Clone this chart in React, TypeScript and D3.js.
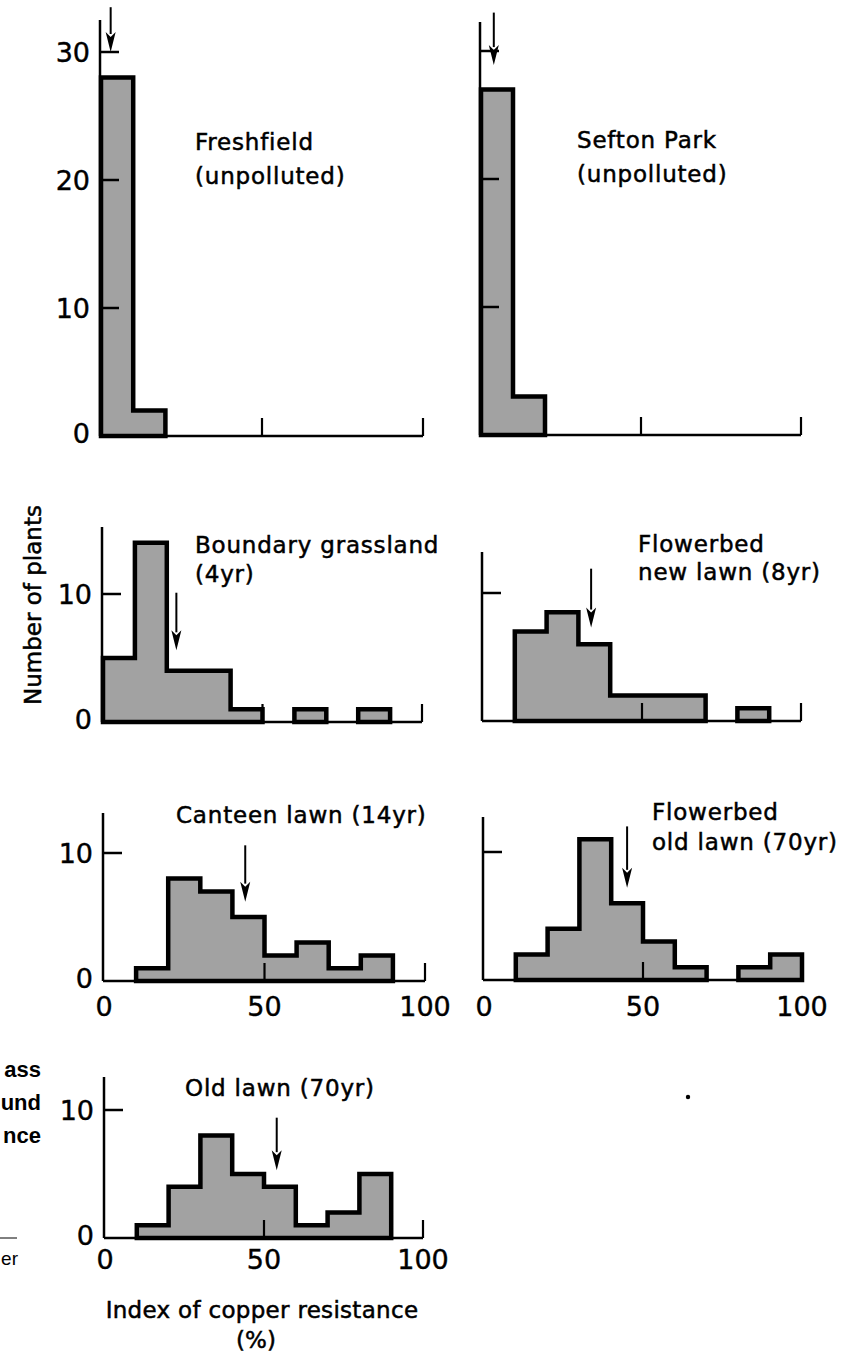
import React from "react";
import * as d3 from "d3";

// bins of the copper resistance index (%)
const binEdges = [0, 10, 20, 30, 40, 50, 60, 70, 80, 90, 100];

// number of plants per bin
const freshfield = [28, 2, 0, 0, 0, 0, 0, 0, 0, 0];
const seftonPark = [27, 3, 0, 0, 0, 0, 0, 0, 0, 0];
const boundaryGrassland = [5, 14, 4, 4, 1, 0, 1, 0, 1, 0];
const flowerbedNewLawn = [0, 7, 8.5, 6, 2, 2, 2, 0, 1, 0];
const canteenLawn = [0, 1, 8, 7, 5, 2, 3, 1, 2, 0];
const flowerbedOldLawn = [0, 2, 4, 11, 6, 3, 1, 0, 1, 2];
const oldLawn = [0, 1, 4, 8, 5, 4, 1, 2, 5, 0];

// mean resistance arrows: [x, top, tip] in data units
const meanArrows = [
  [3, 33.5, 30],
  [4, 33, 28.9],
  [23, 10.1, 5.6],
  [34, 11.9, 7.3],
  [44, 10.6, 6.2],
  [45, 12, 7.2],
  [54, 9.4, 5.3],
];

const siteLabels = [
  ["Freshfield", "(unpolluted)"],
  ["Sefton Park", "(unpolluted)"],
  ["Boundary grassland", "(4yr)"],
  ["Flowerbed", "new lawn (8yr)"],
  ["Canteen lawn (14yr)"],
  ["Flowerbed", "old lawn (70yr)"],
  ["Old lawn (70yr)"],
];

const yTickValues = [
  [10, 20, 30],
  [10, 20, 30],
  [10],
  [10],
  [10],
  [10],
  [10],
];
const xTickLabels = [0, 50, 100];

const series = [
  freshfield,
  seftonPark,
  boundaryGrassland,
  flowerbedNewLawn,
  canteenLawn,
  flowerbedOldLawn,
  oldLawn,
];

// panel placement on the page
const layout = [
  { left: 100, right: 423, base: 436, top: 20, yLab: true, xLab: 0, lx: 195, ly: [150, 184] },
  { left: 480, right: 801, base: 435, top: 22, yLab: false, xLab: 0, lx: 577, ly: [148, 182] },
  { left: 102, right: 422, base: 722, top: 527, yLab: true, xLab: 0, lx: 195, ly: [553, 582] },
  { left: 482, right: 801, base: 721, top: 552, yLab: false, xLab: 0, lx: 638, ly: [552, 580] },
  { left: 103, right: 425, base: 981, top: 813, yLab: true, xLab: 25, lx: 176, ly: [823] },
  { left: 483, right: 802, base: 980, top: 817, yLab: false, xLab: 26, lx: 652, ly: [820, 850] },
  { left: 104, right: 423, base: 1238, top: 1077, yLab: true, xLab: 21, lx: 185, ly: [1096] },
];

const FONT = "'DejaVu Sans', sans-serif";
const FILL = "#a2a2a2";

function Panel({ i }: { i: number }) {
  const L = layout[i];
  const counts = series[i];
  const x = d3.scaleLinear().domain([0, 100]).range([L.left + 1, L.right]);
  const y = d3.scaleLinear().domain([0, 10]).range([L.base, L.base - 128]);

  // contiguous runs of non-empty bins become one outlined shape
  const runs: number[][] = [];
  let cur: number[] = [];
  counts.forEach((c, k) => {
    if (c > 0) cur.push(k);
    else if (cur.length) {
      runs.push(cur);
      cur = [];
    }
  });
  if (cur.length) runs.push(cur);

  const runPath = (run: number[]) => {
    const p = d3.path();
    p.moveTo(x(binEdges[run[0]]), y(0));
    run.forEach((k) => {
      p.lineTo(x(binEdges[k]), y(counts[k]));
      p.lineTo(x(binEdges[k + 1]), y(counts[k]));
    });
    p.lineTo(x(binEdges[run[run.length - 1] + 1]), y(0));
    p.closePath();
    return p.toString();
  };

  const [ax, aTop, aTip] = meanArrows[i];
  const headLen = 20;
  const headW = 5;
  const tipY = y(aTip);

  return (
    <g>
      {runs.map((run, r) => (
        <path
          key={r}
          d={runPath(run)}
          fill={FILL}
          stroke="#000"
          strokeWidth={4.5}
          strokeLinejoin="miter"
        />
      ))}
      {/* axes */}
      <line x1={L.left} x2={L.left} y1={L.top} y2={L.base} stroke="#000" strokeWidth={2.5} />
      <line x1={L.left} x2={L.right} y1={L.base} y2={L.base} stroke="#000" strokeWidth={2.5} />
      {yTickValues[i].map((v) => (
        <line key={v} x1={L.left} x2={L.left + 19} y1={y(v)} y2={y(v)} stroke="#000" strokeWidth={2.5} />
      ))}
      {[50, 100].map((v) => (
        <line key={v} x1={x(v)} x2={x(v)} y1={L.base} y2={L.base - 18} stroke="#000" strokeWidth={2.2} />
      ))}
      {L.yLab &&
        [0, ...yTickValues[i]].map((v) => (
          <text
            key={v}
            x={L.left - 10}
            y={y(v) - (v === 0 ? 3 : 0)}
            textAnchor="end"
            dominantBaseline="central"
            fontFamily={FONT}
            fontSize={27}
            stroke="#000"
            strokeWidth={0.4}
          >
            {v}
          </text>
        ))}
      {L.xLab > 0 &&
        xTickLabels.map((v) => (
          <text
            key={v}
            x={x(v)}
            y={L.base + L.xLab}
            textAnchor="middle"
            dominantBaseline="central"
            fontFamily={FONT}
            fontSize={27}
            stroke="#000"
            strokeWidth={0.4}
          >
            {v}
          </text>
        ))}
      {/* mean arrow */}
      <line x1={x(ax)} x2={x(ax)} y1={y(aTop)} y2={tipY - headLen + 2} stroke="#000" strokeWidth={2} />
      <path
        d={`M${x(ax) - headW},${tipY - headLen}L${x(ax)},${tipY - headLen + 5}L${x(ax) + headW},${tipY - headLen}L${x(ax)},${tipY}Z`}
        fill="#000"
      />
      {siteLabels[i].map((s, k) => (
        <text
          key={k}
          x={L.lx}
          y={L.ly[k]}
          fontFamily={FONT}
          fontSize={23}
          letterSpacing={0.8}
          stroke="#000"
          strokeWidth={0.5}
        >
          {s}
        </text>
      ))}
    </g>
  );
}

export default function App() {
  return (
    <svg
      width={866}
      height={1356}
      style={{ position: "absolute", left: 0, top: 0, background: "#fff" }}
    >
      <rect width={866} height={1356} fill="#fff" />
      {series.map((_, i) => (
        <Panel key={i} i={i} />
      ))}
      <g fontFamily={FONT} fontSize={23} stroke="#000" strokeWidth={0.5}>
        <text transform="translate(41,605) rotate(-90)" textAnchor="middle">
          Number of plants
        </text>
        <text x={262} y={1318} textAnchor="middle" letterSpacing={0.3}>
          Index of copper resistance
        </text>
        <text x={256} y={1348} textAnchor="middle">
          (%)
        </text>
      </g>
      {/* fragments of the neighbouring caption at the page edge */}
      <g fontFamily="'Liberation Sans', Arial, sans-serif" fontSize={22} textAnchor="end">
        <text x={41} y={1077} fontWeight="bold">ass</text>
        <text x={41} y={1110} fontWeight="bold">und</text>
        <text x={41} y={1143} fontWeight="bold">nce</text>
        <text x={18} y={1265} fontSize={19}>er</text>
      </g>
      <line x1={0} x2={17} y1={1238} y2={1238} stroke="#000" strokeWidth={1} />
      <circle cx={688} cy={1097} r={2.2} fill="#000" />
    </svg>
  );
}
